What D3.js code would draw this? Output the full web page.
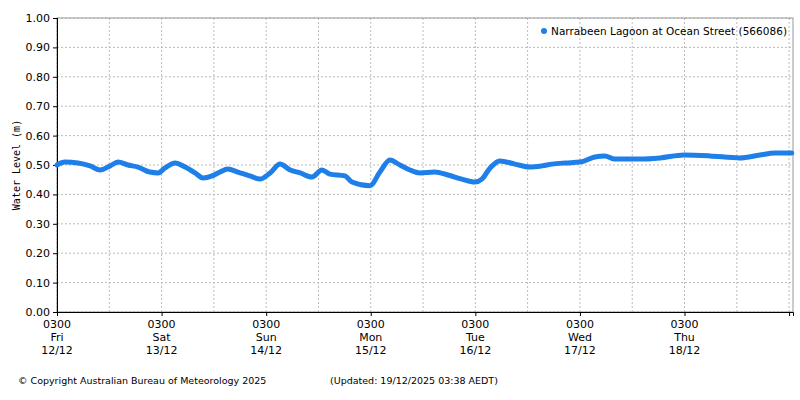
<!DOCTYPE html>
<html><head><meta charset="utf-8">
<script src="https://cdn.jsdelivr.net/npm/d3@7"></script>
<style>body{margin:0;background:#fff;font-family:"DejaVu Sans",Verdana,sans-serif;}</style>
</head><body><div id="chart"></div>
<script>
// hours since 12/12 03:00 and water level (m)
var hours = [0,1.8,4.8,7.6,9.9,12.2,14.0,16.3,18.6,21.3,23.2,24.8,27.1,29.4,31.7,33.5,35.6,37.4,39.2,41.5,44.3,46.6,48.9,51.2,53.5,55.8,58.5,60.8,62.6,66.1,67.7,71.8,74.1,76.4,78.7,81.0,83.3,86.7,89.7,92.9,95.9,97.5,99.4,101.6,105.1,108.5,111.3,113.6,116.6,120.0,123.4,125.7,128.0,133.8,138.4,143.9,149.8,156.7,161.3,164.7,168.6];
var levels = [.500,.510,.507,.497,.483,.497,.510,.500,.493,.476,.473,.490,.507,.493,.473,.456,.463,.476,.486,.476,.463,.452,.473,.503,.483,.473,.459,.483,.469,.463,.442,.429,.476,.517,.500,.483,.473,.476,.466,.452,.442,.452,.490,.514,.503,.493,.497,.503,.507,.510,.527,.531,.520,.520,.524,.534,.531,.524,.534,.541,.541];
var dayNames = ["Fri","Sat","Sun","Mon","Tue","Wed","Thu"];
var dayDates = ["12/12","13/12","14/12","15/12","16/12","17/12","18/12"];
var yTicks = d3.range(0, 1.001, 0.1);

var W = 800, H = 400, mLeft = 57, mRight = 793, mTop = 18, mBottom = 312;
var svg = d3.select("#chart").append("svg").attr("width", W).attr("height", H);
var x = d3.scaleLinear().domain([0, 168.9]).range([mLeft, mRight]);
var y = d3.scaleLinear().domain([0, 1]).range([mBottom, mTop]);

var grid = svg.append("g").attr("stroke", "#bbb").attr("stroke-dasharray", "2,2");
yTicks.forEach(function(t){
  grid.append("line").attr("x1", mLeft).attr("x2", mRight).attr("y1", y(t)).attr("y2", y(t));
});
d3.range(0, 169, 12).forEach(function(h){
  grid.append("line").attr("x1", x(h)).attr("x2", x(h)).attr("y1", mTop).attr("y2", mBottom);
});
svg.append("rect").attr("x", mLeft).attr("y", mTop).attr("width", mRight-mLeft).attr("height", mBottom-mTop)
  .attr("fill", "none").attr("stroke", "#999");

svg.append("g").attr("transform", "translate(" + mLeft + ",0)")
  .call(d3.axisLeft(y).tickValues(yTicks).tickFormat(d3.format(".2f")).tickSize(4))
  .call(function(g){ g.selectAll("text").attr("font-size", 11).attr("font-family", "DejaVu Sans").attr("fill", "#000"); });

svg.append("g").attr("transform", "translate(0," + mBottom + ")")
  .call(d3.axisBottom(x).tickValues(d3.range(0, 169, 24)).tickFormat("").tickSize(4));
dayNames.forEach(function(d, i){
  var t = svg.append("text").attr("x", x(i*24)).attr("y", mBottom + 16).attr("text-anchor", "middle")
    .attr("font-size", 11);
  t.append("tspan").attr("x", x(i*24)).attr("dy", 0).text("0300");
  t.append("tspan").attr("x", x(i*24)).attr("dy", 13).text(d);
  t.append("tspan").attr("x", x(i*24)).attr("dy", 13).text(dayDates[i]);
});

svg.append("text").attr("transform", "translate(20," + ((mTop+mBottom)/2) + ") rotate(-90)")
  .attr("text-anchor", "middle").attr("font-size", 10).attr("font-family", "DejaVu Sans Mono")
  .text("Water Level (m)");

var pts = hours.map(function(h, i){ return [h, levels[i]]; });
svg.append("path").datum(pts).attr("fill", "none").attr("stroke", "#1f7fe8").attr("stroke-width", 5)
  .attr("stroke-linecap", "round")
  .attr("d", d3.line().x(function(d){ return x(d[0]); }).y(function(d){ return y(d[1]); }).curve(d3.curveMonotoneX));

svg.append("circle").attr("cx", 544).attr("cy", 31).attr("r", 3).attr("fill", "#1f7fe8");
svg.append("text").attr("x", 551).attr("y", 35).attr("font-size", 10.5).attr("textLength", 236).text("Narrabeen Lagoon at Ocean Street (566086)");

svg.append("text").attr("x", 18).attr("y", 384).attr("font-size", 9.5).text("© Copyright Australian Bureau of Meteorology 2025");
svg.append("text").attr("x", 330).attr("y", 384).attr("font-size", 9.5).text("(Updated: 19/12/2025 03:38 AEDT)");
</script></body></html>
